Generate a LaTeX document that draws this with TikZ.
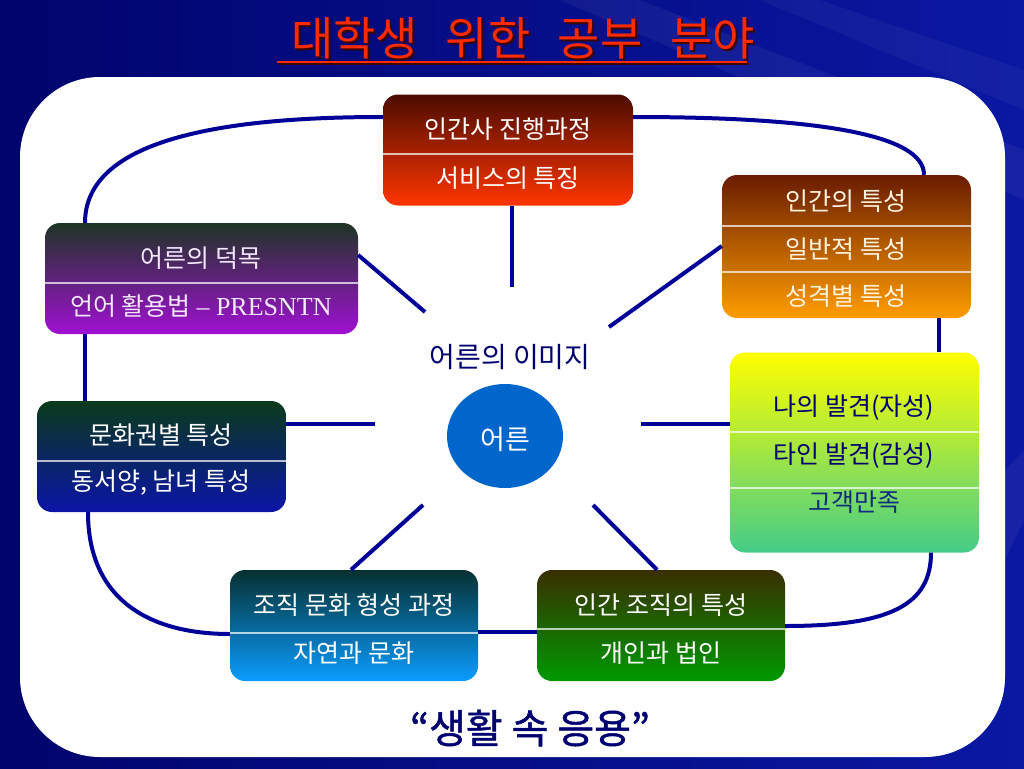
\documentclass[tikz,border=0pt]{standalone}
\usepackage{fontspec}
\setmainfont{Liberation Serif}
\newfontfamily\kr{Noto Sans CJK KR}
\newfontfamily\krb[FakeBold=1.2]{Noto Sans CJK KR}
\usetikzlibrary{shapes.geometric,calc}
\definecolor{navy}{HTML}{000099}
\definecolor{bgL}{HTML}{00046C}
\definecolor{bgR}{HTML}{0A18A2}
\definecolor{titlered}{HTML}{FF2A00}
\definecolor{titleshadow}{HTML}{3A0600}
\definecolor{txtnavy}{HTML}{000070}
\definecolor{txtblue}{HTML}{102A80}
\definecolor{circ}{HTML}{0066CC}
\definecolor{lav}{HTML}{F4E8FF}
\definecolor{cream}{HTML}{FFF4E0}
\definecolor{aT}{HTML}{4C0C00}\definecolor{aB}{HTML}{FF3500}
\definecolor{bT}{HTML}{1E3424}\definecolor{bM}{HTML}{5E2C84}\definecolor{bB}{HTML}{A010D2}
\definecolor{cT}{HTML}{6A1C00}\definecolor{cM}{HTML}{D06400}\definecolor{cB}{HTML}{FF9C00}
\definecolor{dT}{HTML}{FFFF00}\definecolor{dM}{HTML}{C4E86A}\definecolor{dB}{HTML}{44CC88}
\definecolor{eT}{HTML}{0A3A1A}\definecolor{eB}{HTML}{0A14A8}
\definecolor{fT}{HTML}{063030}\definecolor{fB}{HTML}{0A9CFF}
\definecolor{gT}{HTML}{3A2E00}\definecolor{gB}{HTML}{009A00}
\tikzset{
  box/.style={rectangle, rounded corners=15pt, draw=none, inner sep=0pt},
  lbl/.style={font={\kr\fontsize{25}{30}\selectfont}, text=white, inner sep=0pt},
  divider/.style={white, opacity=0.7, line width=1.2pt},
  ring/.style={navy, line width=4pt},
  spoke/.style={navy, line width=4pt},
  titletext/.style={font={\kr\fontsize{46}{52}\selectfont}, inner sep=0pt, anchor=base}
}
\begin{document}
\begin{tikzpicture}[x=1pt,y=-1pt]
\useasboundingbox (0,0) rectangle (1024,768);
% background
\shade[left color=bgL, right color=bgR] (0,0) rectangle (1024,768);
\fill[white, opacity=0.05] (560,0) -- (640,0) -- (1024,150) -- (1024,200) -- cycle;
\fill[white, opacity=0.04] (760,0) -- (820,0) -- (1024,70) -- (1024,110) -- cycle;
\fill[white, opacity=0.05] (1005,470) -- (1024,450) -- (1024,520) -- (1005,560) -- cycle;
% white panel
\fill[white, rounded corners=80pt] (20,77) rectangle (1005,757);

% title
\node[titletext, text=titleshadow] at (525,58)
  {대학생\hspace{0.6em}위한\hspace{0.6em}공부\hspace{0.6em}분야};
\node[titletext, text=titlered] (title) at (523,56)
  {대학생\hspace{0.6em}위한\hspace{0.6em}공부\hspace{0.6em}분야};
\draw[titleshadow, line width=2pt] (279,64) -- (749,64);
\draw[titlered, line width=2pt] (277,62) -- (747,62);

% boxes
\node[box, minimum width=250pt, minimum height=111pt, top color=aT, bottom color=aB] (b1) at (508,150) {};
\node[box, minimum width=313pt, minimum height=111pt, top color=bT, middle color=bM, bottom color=bB] (b2) at (201.5,278.5) {};
\node[box, minimum width=249pt, minimum height=143pt, top color=cT, middle color=cM, bottom color=cB] (b3) at (846.5,246.5) {};
\node[box, minimum width=249pt, minimum height=200pt, top color=dT, middle color=dM, bottom color=dB] (b4) at (854.5,452.5) {};
\node[box, minimum width=249pt, minimum height=111pt, top color=eT, bottom color=eB] (b5) at (161.5,456.5) {};
\node[box, minimum width=248pt, minimum height=111pt, top color=fT, bottom color=fB] (b6) at (354,625.5) {};
\node[box, minimum width=248pt, minimum height=111pt, top color=gT, bottom color=gB] (b7) at (661,625.5) {};

% dividers
\draw[divider] (b1.west |- 0,154) -- (b1.east |- 0,154);
\draw[divider] (b2.west |- 0,283) -- (b2.east |- 0,283);
\draw[divider] (b3.west |- 0,226) -- (b3.east |- 0,226);
\draw[divider] (b3.west |- 0,272) -- (b3.east |- 0,272);
\draw[divider] (b4.west |- 0,432) -- (b4.east |- 0,432);
\draw[divider] (b4.west |- 0,488) -- (b4.east |- 0,488);
\draw[divider] (b5.west |- 0,461) -- (b5.east |- 0,461);
\draw[divider] (b6.west |- 0,633) -- (b6.east |- 0,633);
\draw[divider] (b7.west |- 0,629) -- (b7.east |- 0,629);

% labels
\node[lbl] (t11) at (508,129) {인간사 진행과정};
\node[lbl] (t12) at (508,178) {서비스의 특징};
\node[lbl, text=lav] (t21) at (201,258) {어른의 덕목};
\node[lbl, text=lav] (t22) at (201,306) {언어 활용법 {\rmfamily\fontsize{26}{30}\selectfont – PRESNTN}};
\node[lbl, text=cream] (t31) at (846,201) {인간의 특성};
\node[lbl, text=cream] (t32) at (846,249) {일반적 특성};
\node[lbl, text=cream] (t33) at (846,296) {성격별 특성};
\node[lbl, text=txtnavy] (t41) at (854,408) {나의 발견(자성)};
\node[lbl, text=txtnavy] (t42) at (854,456) {타인 발견(감성)};
\node[lbl, text=txtblue] (t43) at (854,502) {고객만족};
\node[lbl] (t51) at (161,435) {문화권별 특성};
\node[lbl] (t52) at (161,483) {동서양, 남녀 특성};
\node[lbl] (t61) at (354,605) {조직 문화 형성 과정};
\node[lbl] (t62) at (354,653) {자연과 문화};
\node[lbl] (t71) at (661,605) {인간 조직의 특성};
\node[lbl] (t72) at (661,653) {개인과 법인};

% centre
\node[ellipse, fill=circ, minimum width=116pt, minimum height=104pt, inner sep=0pt] (c) at (505,436) {};
\node[lbl, font={\kr\fontsize{27}{30}\selectfont}] (ct) at (505,439) {어른};
\node[lbl, font={\kr\fontsize{28}{32}\selectfont}, text=txtnavy] (img) at (510,357) {어른의 이미지};

% spoke free ends
\coordinate (sT) at (512,287);
\coordinate (sTL) at (425,312);
\coordinate (sTR) at (609,327);
\coordinate (sL) at (375,424);
\coordinate (sR) at (641,424);
\coordinate (sBL) at (423,505);
\coordinate (sBR) at (593,505);

\draw[spoke] (b1.south -| sT) -- (sT);
\draw[spoke] (b2.east |- 0,255) -- (sTL);
\draw[spoke] (b3.west |- 0,246) -- (sTR);
\draw[spoke] (b5.east |- sL) -- (sL);
\draw[spoke] (b4.west |- sR) -- (sR);
\draw[spoke] (b6.north -| 351,0) -- (sBL);
\draw[spoke] (b7.north -| 657,0) -- (sBR);

% outer ring
\draw[ring] (b1.west |- 0,117) .. controls (220,117) and (85,140) .. (b2.north -| 85,0);
\draw[ring] (b1.east |- 0,117) .. controls (820,117) and (924,135) .. (b3.north -| 924,0);
\draw[ring] (b2.south -| 85,0) -- (b5.north -| 85,0);
\draw[ring] (b3.south -| 939,0) -- (b4.north -| 939,0);
\draw[ring] (b5.south -| 88,0) .. controls (88,600) and (150,634) .. (b6.west |- 0,634);
\draw[ring] (b6.east |- 0,632) -- (b7.west |- 0,632);
\draw[ring] (b7.east |- 0,626) .. controls (890,626) and (931,605) .. (b4.south -| 931,0);

% bottom caption
\node[font={\krb\fontsize{40}{46}\selectfont}, text=txtnavy, inner sep=0pt] (cap) at (530,728) {“생활 속 응용”};
\end{tikzpicture}
\end{document}
